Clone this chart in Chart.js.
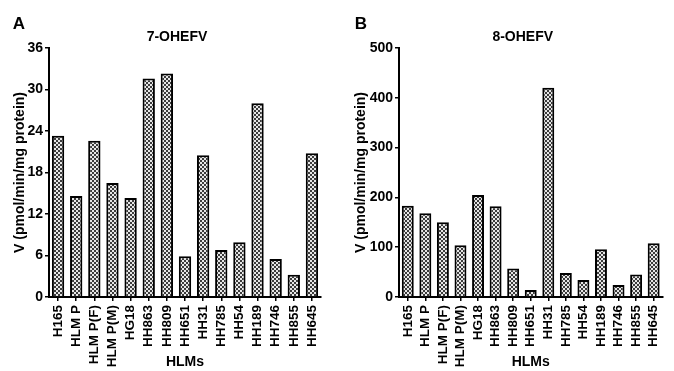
<!DOCTYPE html>
<html>
<head>
<meta charset="utf-8">
<script src="https://cdn.jsdelivr.net/npm/chart.js@4.4.0/dist/chart.umd.min.js"></script>
<style>
body { margin: 0; background: #fff; width: 674px; height: 371px; overflow: hidden; position: relative; }
canvas { position: absolute; top: 0; }
</style>
</head>
<body>
<canvas id="chartA" width="337" height="371" style="left:0"></canvas>
<canvas id="chartB" width="337" height="371" style="left:337px"></canvas>
<script>
// HLM samples (same order in both panels)
const hlms = ['H165', 'HLM P', 'HLM P(F)', 'HLM P(M)', 'HG18', 'HH863', 'HH809', 'HH651', 'HH31', 'HH785', 'HH54', 'HH189', 'HH746', 'HH855', 'HH645'];

// V (pmol/min/mg protein)
const ohefv7 = [23.3, 14.6, 22.6, 16.5, 14.3, 31.6, 32.3, 5.9, 20.5, 6.8, 7.9, 28.0, 5.5, 3.2, 20.8];
const ohefv8 = [183, 168, 150, 104, 205, 182, 57, 14, 420, 48, 34, 96, 24, 45, 108];

const yTitle = 'V (pmol/min/mg protein)';
const xTitle = 'HLMs';
const fontFamily = '"Liberation Sans", Arial, sans-serif';

// checkered fill like the original print
function checkerPattern() {
    const c = document.createElement('canvas');
    c.width = 4; c.height = 4;
    const g = c.getContext('2d');
    g.fillStyle = '#e6e6e6';
    g.fillRect(0, 0, 4, 4);
    g.fillStyle = '#3c3c3c';
    g.fillRect(0, 0, 2, 2);
    g.fillRect(2, 2, 2, 2);
    return g.createPattern(c, 'repeat');
}

// panel letter + title drawn above the plot
const panelText = {
    id: 'panelText',
    afterDraw(chart, args, opts) {
        const ctx = chart.ctx;
        const area = chart.chartArea;
        ctx.save();
        ctx.fillStyle = '#000';
        ctx.textAlign = 'center';
        ctx.textBaseline = 'middle';
        ctx.font = 'bold 17px ' + fontFamily;
        ctx.fillText(opts.letter, opts.letterX, 24);
        ctx.font = 'bold 14px ' + fontFamily;
        ctx.fillText(opts.title, (area.left + area.right) / 2 - 8, 37);
        ctx.restore();
    }
};

function makeChart(id, values, max, step, setup) {
    const ctx = document.getElementById(id).getContext('2d');
    return new Chart(ctx, {
        type: 'bar',
        data: {
            labels: hlms,
            datasets: [{
                data: values,
                backgroundColor: checkerPattern(),
                borderColor: '#000',
                borderWidth: 2,
                barPercentage: 0.68,
                categoryPercentage: 1
            }]
        },
        plugins: [panelText],
        options: {
            responsive: false,
            animation: false,
            layout: { padding: { top: 48, left: setup.padLeft, right: setup.padRight, bottom: 0 } },
            plugins: {
                legend: { display: false },
                tooltip: { enabled: false },
                panelText: { letter: setup.letter, letterX: setup.letterX, title: setup.title }
            },
            scales: {
                x: {
                    afterFit: (scale) => { scale.height = 74; },
                    grid: { display: true, drawOnChartArea: false, offset: false, tickLength: 4, color: '#000', lineWidth: 1.5 },
                    border: { color: '#000', width: 2 },
                    ticks: {
                        autoSkip: false, maxRotation: 90, minRotation: 90, padding: 4,
                        color: '#000', font: { family: fontFamily, size: 13.5, weight: 'bold' }
                    },
                    title: {
                        display: true, text: xTitle, color: '#000', padding: 0,
                        font: { family: fontFamily, size: 14, weight: 'bold' }
                    }
                },
                y: {
                    min: 0,
                    max: max,
                    afterFit: (scale) => { scale.width = setup.yWidth; },
                    grid: { display: true, drawOnChartArea: false, tickLength: 4, color: '#000', lineWidth: 1.5 },
                    border: { color: '#000', width: 2 },
                    ticks: {
                        stepSize: step, padding: 2, color: '#000',
                        font: { family: fontFamily, size: 14, weight: 'bold' }
                    },
                    title: {
                        display: true, text: yTitle, color: '#000', padding: { top: 4, bottom: 0 },
                        font: { family: fontFamily, size: 14, weight: 'bold' }
                    }
                }
            }
        }
    });
}

makeChart('chartA', ohefv7, 36, 6, { letter: 'A', letterX: 19, title: '7-OHEFV', padLeft: 8, padRight: 16, yWidth: 41 });
makeChart('chartB', ohefv8, 500, 100, { letter: 'B', letterX: 24, title: '8-OHEFV', padLeft: 12, padRight: 4, yWidth: 50 });
</script>
</body>
</html>
